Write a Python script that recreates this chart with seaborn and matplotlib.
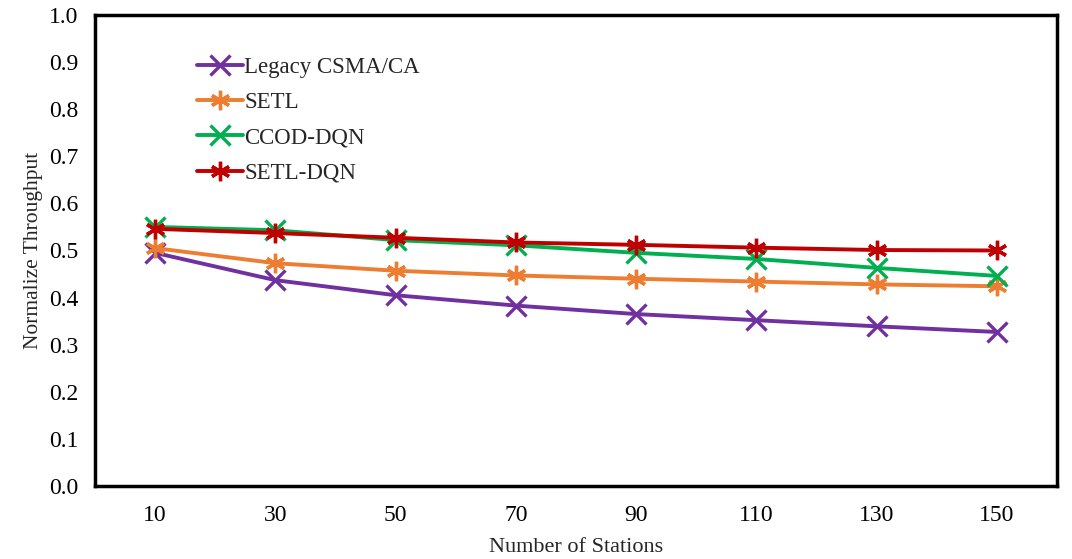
import pandas as pd
import matplotlib.pyplot as plt
import seaborn as sns

# Data
stations = [10, 30, 50, 70, 90, 110, 130, 150]
legacy_csma = [0.495, 0.437, 0.405, 0.383, 0.365, 0.352, 0.339, 0.327]
setl = [0.505, 0.473, 0.457, 0.447, 0.440, 0.434, 0.428, 0.424]
ccod_dqn = [0.550, 0.543, 0.522, 0.511, 0.495, 0.482, 0.463, 0.446]
setl_dqn = [0.546, 0.537, 0.527, 0.517, 0.512, 0.506, 0.501, 0.500]

schemes = ["Legacy CSMA/CA", "SETL", "CCOD-DQN", "SETL-DQN"]
colors = ["#7030A0", "#ED7D31", "#00B050", "#C00000"]
asterisk = (6, 2, 0)
markers = ["x", asterisk, "x", asterisk]

# Long-form table
rows = []
for name, vals in zip(schemes, [legacy_csma, setl, ccod_dqn, setl_dqn]):
    for s, v in zip(stations, vals):
        rows.append({"Stations": str(s), "Throughput": v, "Scheme": name})
df = pd.DataFrame(rows)

sns.set_style("white")
plt.rcParams["font.family"] = ["Liberation Serif", "DejaVu Serif"]

fig = plt.figure(figsize=(10.72, 5.59), dpi=100)
ax = fig.add_axes([0.0886, 0.1306, 0.8974, 0.8426])

sns.pointplot(
    data=df, x="Stations", y="Throughput", hue="Scheme",
    hue_order=schemes, order=[str(s) for s in stations],
    palette=colors, markers=markers, linestyles="-",
    errorbar=None, ax=ax,
    linewidth=2.8, markersize=14, markeredgewidth=2.4,
)

ax.set_ylim(0, 1.0)
ax.set_xlim(-0.5, len(stations) - 0.5)
ax.set_yticks([i / 10 for i in range(11)])
ax.set_yticklabels([f"{i / 10:.1f}" for i in range(11)])

ax.set_xlabel("Number of Stations", fontsize=16, labelpad=8)
ax.set_ylabel("Normalize Throughput", fontsize=15.5, labelpad=4)
ax.tick_params(axis="both", direction="in", length=5, width=1.5,
               labelsize=17, colors="black", pad=12)
ax.tick_params(axis="x", pad=14)

for sp in ax.spines.values():
    sp.set_color("black")
    sp.set_linewidth(2.5)

ax.legend(loc="upper left", bbox_to_anchor=(0.085, 0.955), frameon=False,
          fontsize=16.5, handlelength=2.0, handletextpad=0.05, labelspacing=0.62)

fig.savefig("out.png", dpi=100)
